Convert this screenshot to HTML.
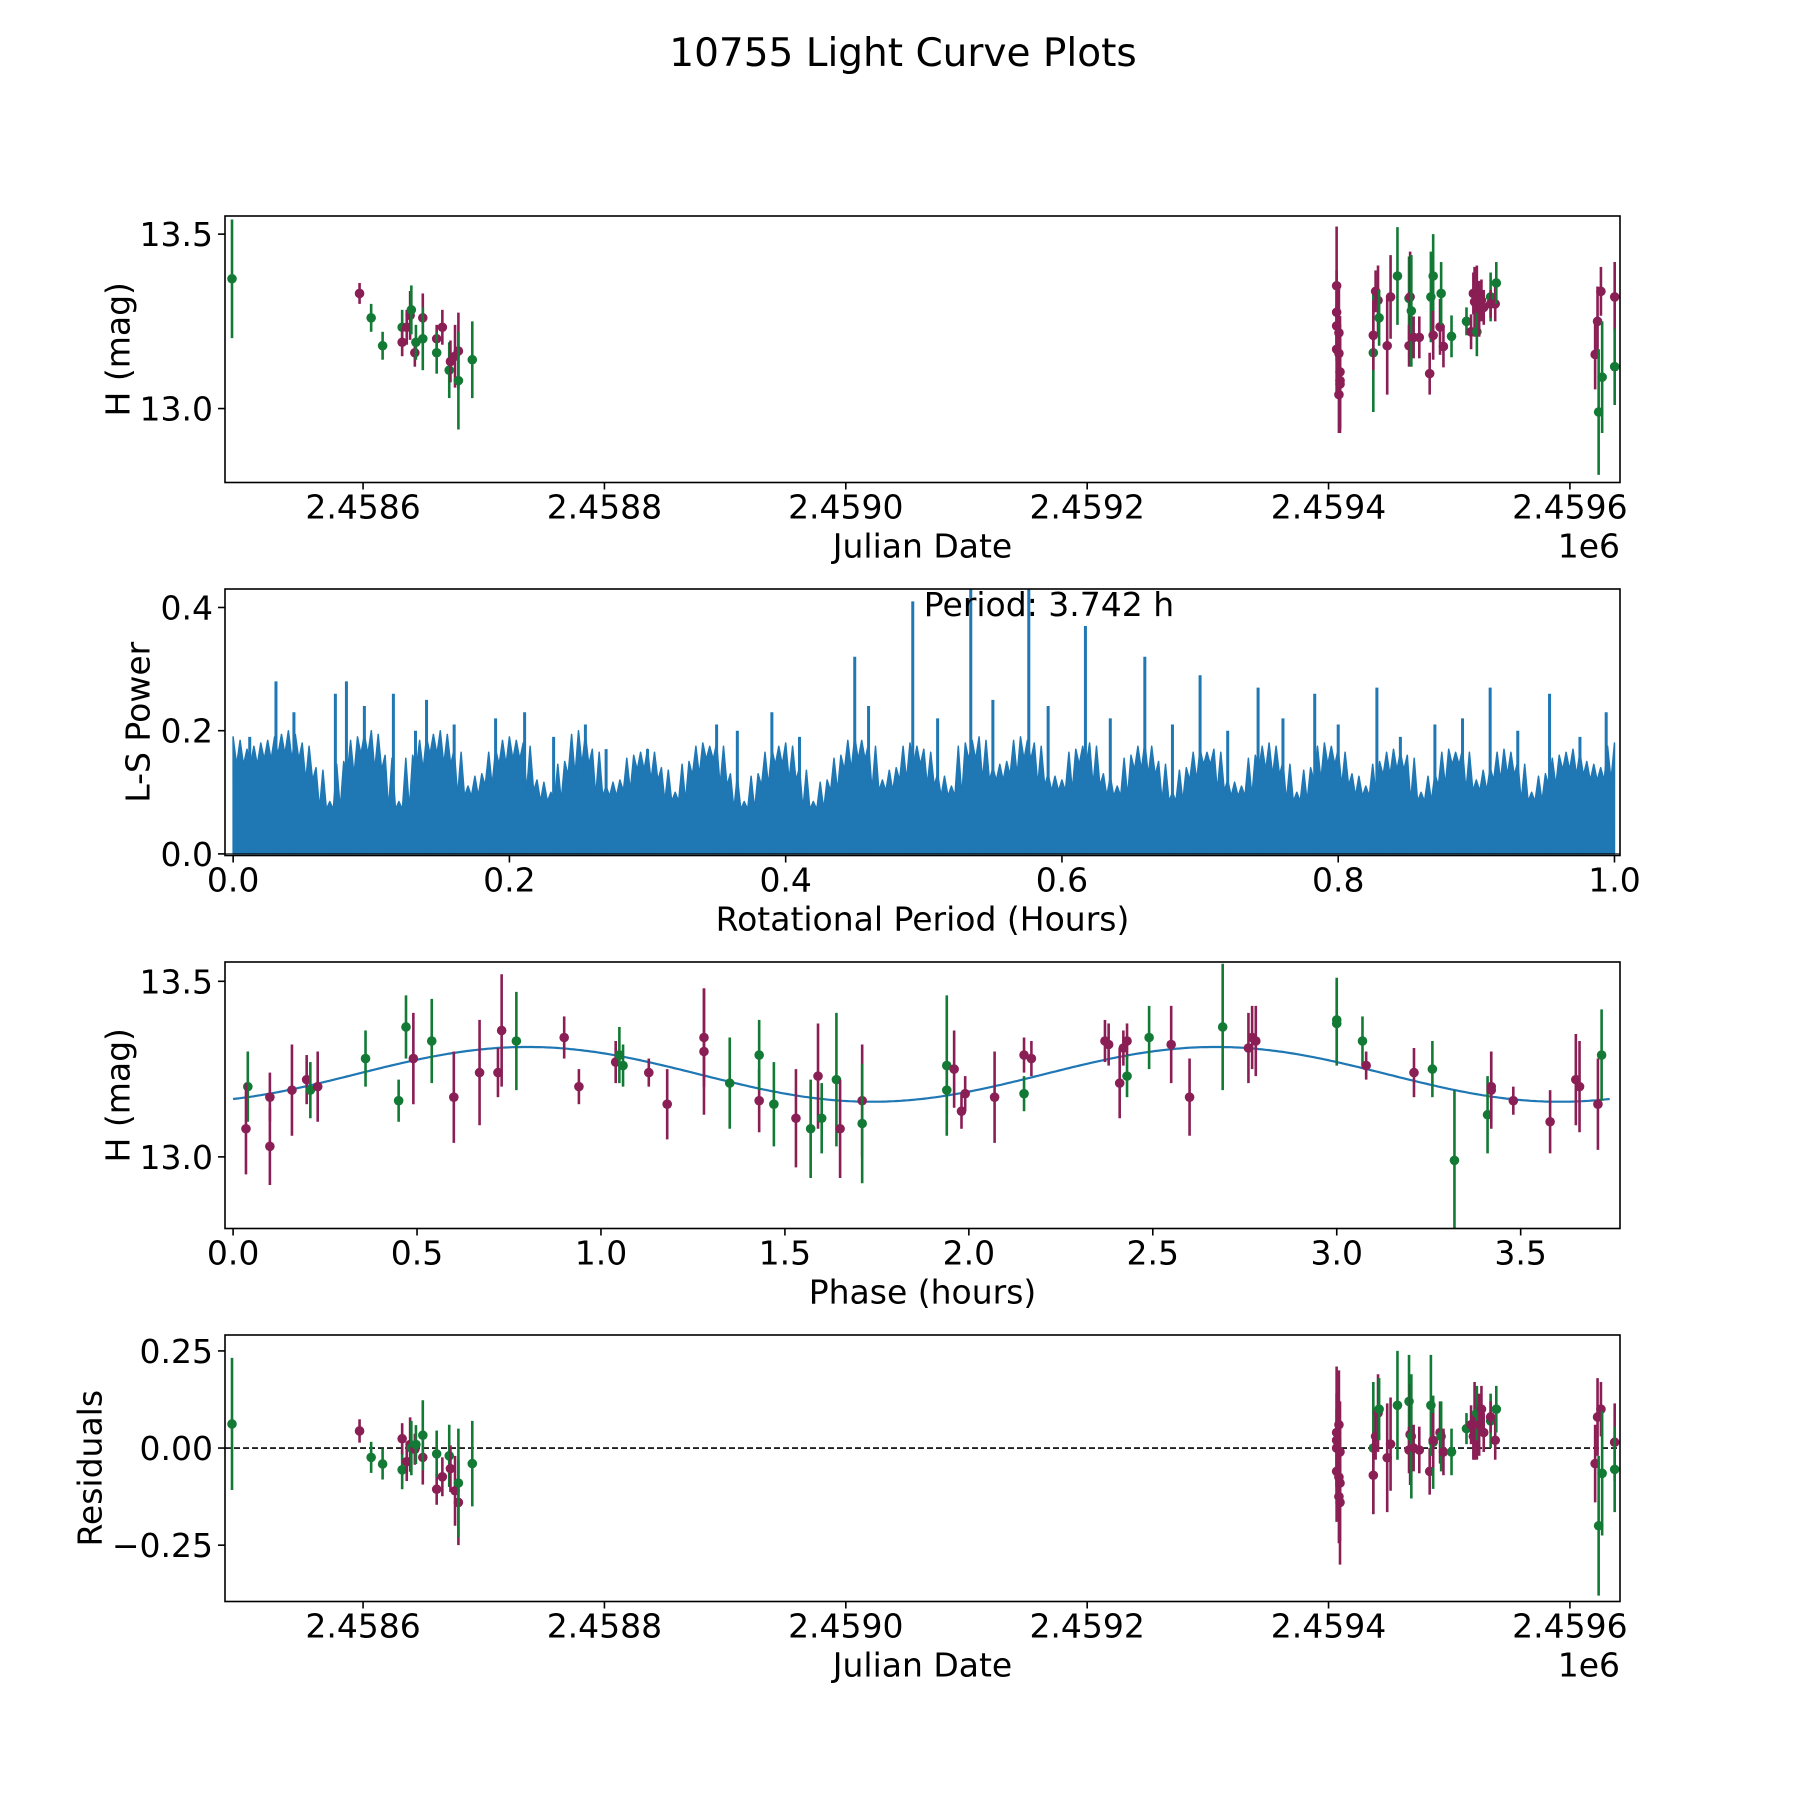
<!DOCTYPE html>
<html><head><meta charset="utf-8"><title>10755 Light Curve Plots</title>
<style>
html,body{margin:0;padding:0;background:#fff;}
svg{display:block;font-family:"DejaVu Sans","Liberation Sans",sans-serif;}
</style></head>
<body>
<svg id="fig" width="1800" height="1800" viewBox="0 0 1800 1800" xmlns="http://www.w3.org/2000/svg">
<rect x="0" y="0" width="1800" height="1800" fill="#fff"/>
<text x="903" y="66" font-size="39" text-anchor="middle">10755 Light Curve Plots</text>
</svg>
<script>
// ---------- Panel 1 / 4 data (Julian Date) ----------
const jdDates = [2458491.4,2458597.1,2458606.7,2458616.2,2458632.4,2458632.4,2458636.2,2458639,2458640,2458642.9,2458643.8,2458649.5,2458649.5,2458661,2458661,2458665.7,2458671.4,2458672.4,2458676.2,2458679,2458679,2458690.5,
2459406.7,2459406.7,2459406.7,2459406.7,2459408.6,2459408.6,2459409.5,2459409.5,2459408.6,2459409.5,
2459437.1,2459437.1,2459439,2459441,2459441.9,2459448.6,2459451.4,2459457.1,2459466.7,2459466.7,2459467.6,2459468.6,2459470.5,2459475.2,2459483.8,2459484.8,2459486.7,2459486.7,2459492.4,2459493.3,2459495.2,2459501.9,2459514.3,2459518.1,2459520,2459521,2459522.9,2459522.9,2459524.8,2459526.7,2459528.6,2459534.3,2459534.3,2459538.1,2459539,
2459620.9,2459622.9,2459623.8,2459625.7,2459626.7,2459637.1,2459637.1];
const jdMags = [13.372,13.33,13.26,13.18,13.233,13.19,13.233,13.267,13.283,13.16,13.19,13.26,13.20,13.20,13.16,13.233,13.11,13.135,13.15,13.165,13.08,13.14,
13.352,13.276,13.237,13.17,13.217,13.158,13.105,13.08,13.04,13.07,
13.16,13.21,13.336,13.31,13.26,13.18,13.32,13.38,13.316,13.18,13.32,13.28,13.204,13.204,13.10,13.32,13.38,13.21,13.234,13.33,13.178,13.207,13.25,13.22,13.33,13.306,13.33,13.22,13.286,13.31,13.29,13.32,13.30,13.30,13.36,
13.155,13.25,12.99,13.336,13.09,13.32,13.12];
const jdErrs = [0.17,0.03,0.04,0.04,0.05,0.04,0.05,0.07,0.07,0.04,0.05,0.07,0.09,0.04,0.06,0.05,0.08,0.06,0.09,0.11,0.14,0.11,
0.17,0.12,0.1,0.13,0.14,0.12,0.16,0.15,0.11,0.13,
0.17,0.1,0.06,0.1,0.08,0.14,0.12,0.14,0.12,0.06,0.13,0.16,0.06,0.06,0.06,0.13,0.12,0.07,0.08,0.09,0.06,0.06,0.04,0.05,0.06,0.1,0.08,0.07,0.08,0.06,0.05,0.07,0.04,0.05,0.06,
0.1,0.1,0.18,0.07,0.16,0.1,0.11];
const jdColors = ["g","m","g","g","g","m","m","m","g","m","g","m","g","m","g","m","g","m","m","m","g","g",
"m","m","m","m","m","m","m","m","m","m",
"g","m","m","m","g","m","m","g","g","m","m","g","m","m","m","g","g","m","m","g","m","g","g","m","m","m","m","g","m","m","m","g","m","m","g",
"m","m","g","m","g","m","g"];
const residuals = [0.062,0.044,-0.024,-0.041,-0.056,0.024,-0.035,0.009,0,-0.003,0.009,-0.024,0.033,-0.106,-0.015,-0.074,-0.02,-0.053,-0.11,-0.14,-0.09,-0.04,
0.04,0.02,0,-0.06,0.06,-0.125,-0.14,-0.09,-0.075,-0.01,
0.0,-0.07,0.03,0.09,0.1,-0.025,0.01,0.11,0.12,-0.005,0.035,0.03,0.0,-0.005,-0.06,0.11,0.015,0.02,0.04,0.03,-0.01,-0.01,0.05,0.06,0.03,0.07,0.05,0.09,0.06,0.1,0.04,0.07,0.08,0.02,0.1,
-0.04,0.08,-0.2,0.1,-0.065,0.015,-0.055];

// ---------- Panel 2 data (periodogram) ----------
const lsPeriods = [0.00,0.01,0.02,0.03,0.04,0.05,0.06,0.07,0.08,0.09,0.10,0.11,0.12,0.13,0.14,0.15,0.16,0.17,0.18,0.19,0.20,0.21,0.22,0.23,0.24,0.25,0.26,0.27,0.28,0.29,0.30,0.31,0.32,0.33,0.34,0.35,0.36,0.37,0.38,0.39,0.40,0.41,0.42,0.43,0.44,0.45,0.46,0.47,0.48,0.49,0.50,0.51,0.52,0.53,0.54,0.55,0.56,0.57,0.58,0.59,0.60,0.61,0.62,0.63,0.64,0.65,0.66,0.67,0.68,0.69,0.70,0.71,0.72,0.73,0.74,0.75,0.76,0.77,0.78,0.79,0.80,0.81,0.82,0.83,0.84,0.85,0.86,0.87,0.88,0.89,0.90,0.91,0.92,0.93,0.94,0.95,0.96,0.97,0.98,0.99,1.00];
const lsPower = [0.19,0.17,0.18,0.19,0.20,0.18,0.14,0.085,0.15,0.19,0.20,0.16,0.085,0.16,0.19,0.20,0.17,0.11,0.13,0.17,0.19,0.18,0.12,0.10,0.15,0.20,0.17,0.11,0.12,0.16,0.17,0.14,0.10,0.15,0.18,0.18,0.13,0.085,0.13,0.17,0.18,0.14,0.085,0.12,0.16,0.19,0.18,0.12,0.14,0.18,0.17,0.13,0.11,0.18,0.19,0.14,0.15,0.19,0.18,0.13,0.12,0.17,0.18,0.13,0.11,0.16,0.18,0.15,0.10,0.14,0.17,0.17,0.12,0.11,0.16,0.18,0.15,0.10,0.14,0.18,0.17,0.13,0.11,0.15,0.17,0.16,0.10,0.13,0.17,0.17,0.12,0.14,0.17,0.15,0.10,0.13,0.16,0.17,0.15,0.14,0.18];
const spikePeriods = [0.012,0.031,0.044,0.074,0.082,0.095,0.116,0.132,0.14,0.16,0.19,0.211,0.232,0.255,0.27,0.3,0.35,0.365,0.39,0.41,0.45,0.46,0.492,0.51,0.534,0.55,0.576,0.59,0.617,0.635,0.66,0.68,0.70,0.72,0.742,0.76,0.783,0.80,0.828,0.845,0.87,0.89,0.91,0.93,0.953,0.975,0.994];
const spikePower = [0.19,0.28,0.23,0.26,0.28,0.24,0.26,0.20,0.25,0.21,0.22,0.23,0.19,0.21,0.17,0.17,0.21,0.20,0.23,0.19,0.32,0.24,0.41,0.22,0.45,0.25,0.45,0.24,0.37,0.22,0.32,0.21,0.29,0.20,0.27,0.22,0.26,0.21,0.27,0.19,0.21,0.22,0.27,0.20,0.26,0.19,0.23];

// ---------- Panel 3 data (phase-folded) ----------
const phases = [0.04,0.035,0.10,0.10,0.16,0.20,0.21,0.23,0.36,0.45,0.47,0.49,0.54,0.60,0.67,0.72,0.73,0.77,0.90,0.94,1.04,1.05,1.06,1.13,1.18,1.28,1.28,1.35,1.43,1.43,1.47,1.53,1.57,1.59,1.60,1.64,1.65,1.71,1.71,
1.94,1.94,1.96,1.98,1.99,2.07,2.15,2.15,2.17,2.37,2.38,2.41,2.42,2.43,2.43,2.49,2.55,2.60,2.69,2.76,2.77,2.78,3.00,3.00,3.07,3.08,3.21,3.26,3.32,3.41,3.42,3.42,3.48,3.58,3.65,3.66,3.71,3.72];
const phaseMags = [13.20,13.08,13.03,13.17,13.19,13.22,13.19,13.20,13.28,13.16,13.37,13.28,13.33,13.17,13.24,13.24,13.36,13.33,13.34,13.20,13.27,13.29,13.26,13.24,13.15,13.34,13.30,13.21,13.16,13.29,13.15,13.11,13.08,13.23,13.11,13.22,13.08,13.16,13.095,
13.26,13.19,13.25,13.13,13.18,13.17,13.18,13.29,13.28,13.33,13.32,13.21,13.31,13.33,13.23,13.34,13.32,13.17,13.37,13.31,13.34,13.33,13.38,13.39,13.33,13.26,13.24,13.25,12.99,13.12,13.19,13.20,13.16,13.10,13.22,13.20,13.15,13.29];
const phaseErrs = [0.1,0.13,0.11,0.07,0.13,0.07,0.08,0.10,0.08,0.06,0.09,0.13,0.12,0.13,0.15,0.07,0.16,0.14,0.06,0.05,0.06,0.08,0.06,0.04,0.1,0.14,0.18,0.13,0.09,0.1,0.12,0.14,0.14,0.15,0.1,0.19,0.14,0.16,0.17,
0.2,0.07,0.11,0.05,0.05,0.13,0.05,0.05,0.05,0.06,0.06,0.1,0.05,0.05,0.06,0.09,0.11,0.11,0.18,0.1,0.09,0.1,0.12,0.12,0.07,0.04,0.07,0.08,0.2,0.11,0.11,0.1,0.04,0.09,0.13,0.13,0.13,0.13];
const phaseColors = ["g","m","m","m","m","m","g","m","g","g","g","m","g","m","m","m","m","g","m","m","m","g","g","m","m","m","m","g","m","g","g","m","g","m","g","g","m","m","g",
"g","g","m","m","m","m","g","m","m","m","m","m","m","m","g","g","m","m","g","m","m","m","g","g","g","m","m","g","g","g","m","m","m","m","m","m","m","g"];
const fitMean = 13.235, fitAmp = 0.078, fitPeak = 0.80, fitPeriod = 1.871;

// ---------- tick labels ----------
const jdTicks = [2458600,2458800,2459000,2459200,2459400,2459600];
const jdTickLabels = ["2.4586","2.4588","2.4590","2.4592","2.4594","2.4596"];
const magTicks = [13.0,13.5];
const magTickLabels = ["13.0","13.5"];
const lsXTicks = [0,0.2,0.4,0.6,0.8,1.0];
const lsXTickLabels = ["0.0","0.2","0.4","0.6","0.8","1.0"];
const lsYTicks = [0,0.2,0.4];
const lsYTickLabels = ["0.0","0.2","0.4"];
const phTicks = [0,0.5,1,1.5,2,2.5,3,3.5];
const phTickLabels = ["0.0","0.5","1.0","1.5","2.0","2.5","3.0","3.5"];
const resTicks = [-0.25,0,0.25];
const resTickLabels = ["\u22120.25","0.00","0.25"];

const NS = "http://www.w3.org/2000/svg";
const svg = document.getElementById("fig");
const COL = {g:"#137a35", m:"#8a1f55"};
function mk(tag, attrs, parent){
  const e = document.createElementNS(NS, tag);
  for (const k in attrs) e.setAttribute(k, attrs[k]);
  (parent||svg).appendChild(e);
  return e;
}
const L = 225, W = 1395, H = 266.5, FS = 33;
function makeAxes(name, top, xlim, ylim){
  const g = mk("g", {});
  
  
  const sx = v => L + (v - xlim[0]) / (xlim[1] - xlim[0]) * W;
  const sy = v => top + H - (v - ylim[0]) / (ylim[1] - ylim[0]) * H;
  const clipId = name + "-clip";
  const cp = mk("clipPath", {id: clipId}, g);
  mk("rect", {x: L, y: top, width: W, height: H}, cp);
  const plot = mk("g", {"clip-path": "url(#" + clipId + ")"}, g);
  
  
  return {g, plot, sx, sy, top};
}
function finishAxes(ax, xt, xtl, yt, ytl, xlabel, ylabel, ylabelX, offsetText){
  const g = ax.g, top = ax.top, bot = top + H;
  const fr = mk("rect", {x: L, y: top, width: W, height: H, fill: "none", stroke: "#000", "stroke-width": 1.6}, g);
  
  
  xt.forEach((v, i) => {
    const x = ax.sx(v);
    mk("line", {x1: x, x2: x, y1: bot, y2: bot + 7, stroke: "#000", "stroke-width": 1.6}, g);
    const t = mk("text", {x: x, y: bot + 36, "font-size": FS, "text-anchor": "middle"}, g);
    t.textContent = xtl[i];
    
    
  });
  yt.forEach((v, i) => {
    const y = ax.sy(v);
    mk("line", {x1: L - 7, x2: L, y1: y, y2: y, stroke: "#000", "stroke-width": 1.6}, g);
    const t = mk("text", {x: L - 12, y: y + 12, "font-size": FS, "text-anchor": "end"}, g);
    t.textContent = ytl[i];
    
    
  });
  const xl = mk("text", {x: L + W / 2, y: bot + 75, "font-size": FS, "text-anchor": "middle"}, g);
  xl.textContent = xlabel;
  
  
  const yc = top + H / 2;
  const yl = mk("text", {x: ylabelX, y: yc, "font-size": FS, "text-anchor": "middle", "dominant-baseline": "central", transform: "rotate(-90 " + ylabelX + " " + yc + ")"}, g);
  yl.textContent = ylabel;
  
  
  if (offsetText) {
    const o = mk("text", {x: L + W, y: bot + 75, "font-size": FS, "text-anchor": "end"}, g);
    o.textContent = offsetText;
    
    
  }
}
function errPoints(ax, xs, ys, es, cs, name){
  xs.forEach((xv, i) => {
    const x = ax.sx(xv), c = COL[cs[i]];
    const ln = mk("line", {x1: x, x2: x, y1: ax.sy(ys[i] - es[i]), y2: ax.sy(ys[i] + es[i]), stroke: c, "stroke-width": 2.6}, ax.plot);
    
    
    const ci = mk("circle", {cx: x, cy: ax.sy(ys[i]), r: 4.8, fill: c}, ax.plot);
    
    
  });
}

// Panel 1
const JDX = [2458485.6, 2459641.5];
const ax1 = makeAxes("light-curve-panel", 216, JDX, [12.788, 13.552]);
errPoints(ax1, jdDates, jdMags, jdErrs, jdColors, "light-curve");
finishAxes(ax1, jdTicks, jdTickLabels, magTicks, magTickLabels, "Julian Date", "H (mag)", 118, "1e6");

// Panel 2
const ax2 = makeAxes("periodogram-panel", 589, [-0.0059, 1.004], [-0.0026, 0.43]);
let d = "M" + ax2.sx(lsPeriods[0]) + " " + ax2.sy(0);
lsPeriods.forEach((p, i) => {
  d += " L" + ax2.sx(p).toFixed(1) + " " + ax2.sy(lsPower[i]).toFixed(1);
  if (i < lsPeriods.length - 1) {
    const lo = Math.min(lsPower[i], lsPower[i + 1]);
    const step = (lsPeriods[i + 1] - p) / 4;
    d += " L" + ax2.sx(p + step).toFixed(1) + " " + ax2.sy(lo * 0.85).toFixed(1);
    d += " L" + ax2.sx(p + 2 * step).toFixed(1) + " " + ax2.sy(Math.max(lsPower[i], lsPower[i + 1]) * 0.97).toFixed(1);
    d += " L" + ax2.sx(p + 3 * step).toFixed(1) + " " + ax2.sy(lo * 0.85).toFixed(1);
  }
});
d += " L" + ax2.sx(lsPeriods[lsPeriods.length - 1]) + " " + ax2.sy(0) + " Z";
const area = mk("path", {d: d, fill: "#1f77b4", stroke: "#1f77b4", "stroke-width": 1.5, "stroke-linejoin": "round"}, ax2.plot);


spikePeriods.forEach((p, i) => {
  const s = mk("line", {x1: ax2.sx(p), x2: ax2.sx(p), y1: ax2.sy(0), y2: ax2.sy(spikePower[i]), stroke: "#1f77b4", "stroke-width": 3}, ax2.plot);
  
  
});
const bl = mk("line", {x1: L, x2: L + W, y1: ax2.sy(0), y2: ax2.sy(0), stroke: "#000", "stroke-width": 1}, ax2.plot);


const per = mk("text", {x: ax2.sx(0.5), y: 616, "font-size": FS}, ax2.g);
per.textContent = "Period: 3.742 h";


finishAxes(ax2, lsXTicks, lsXTickLabels, lsYTicks, lsYTickLabels, "Rotational Period (Hours)", "L-S Power", 138, null);

// Panel 3
const ax3 = makeAxes("phase-fold-panel", 962, [-0.022, 3.77], [12.796, 13.555]);
let fd = "";
for (let k = 0; k <= 400; k++) {
  const ph = 3.742 * k / 400;
  const m = fitMean + fitAmp * Math.cos(2 * Math.PI * (ph - fitPeak) / fitPeriod);
  fd += (k ? " L" : "M") + ax3.sx(ph).toFixed(1) + " " + ax3.sy(m).toFixed(1);
}
const fit = mk("path", {d: fd, fill: "none", stroke: "#1f77b4", "stroke-width": 2.2}, ax3.plot);


errPoints(ax3, phases, phaseMags, phaseErrs, phaseColors, "phase");
finishAxes(ax3, phTicks, phTickLabels, magTicks, magTickLabels, "Phase (hours)", "H (mag)", 118, null);

// Panel 4
const ax4 = makeAxes("residuals-panel", 1335, JDX, [-0.395, 0.291]);
const zl = mk("line", {x1: L, x2: L + W, y1: ax4.sy(0), y2: ax4.sy(0), stroke: "#000", "stroke-width": 1.6, "stroke-dasharray": "6 3"}, ax4.plot);


errPoints(ax4, jdDates, residuals, jdErrs, jdColors, "residual");
finishAxes(ax4, jdTicks, jdTickLabels, resTicks, resTickLabels, "Julian Date", "Residuals", 90, "1e6");
</script>
</body></html>
